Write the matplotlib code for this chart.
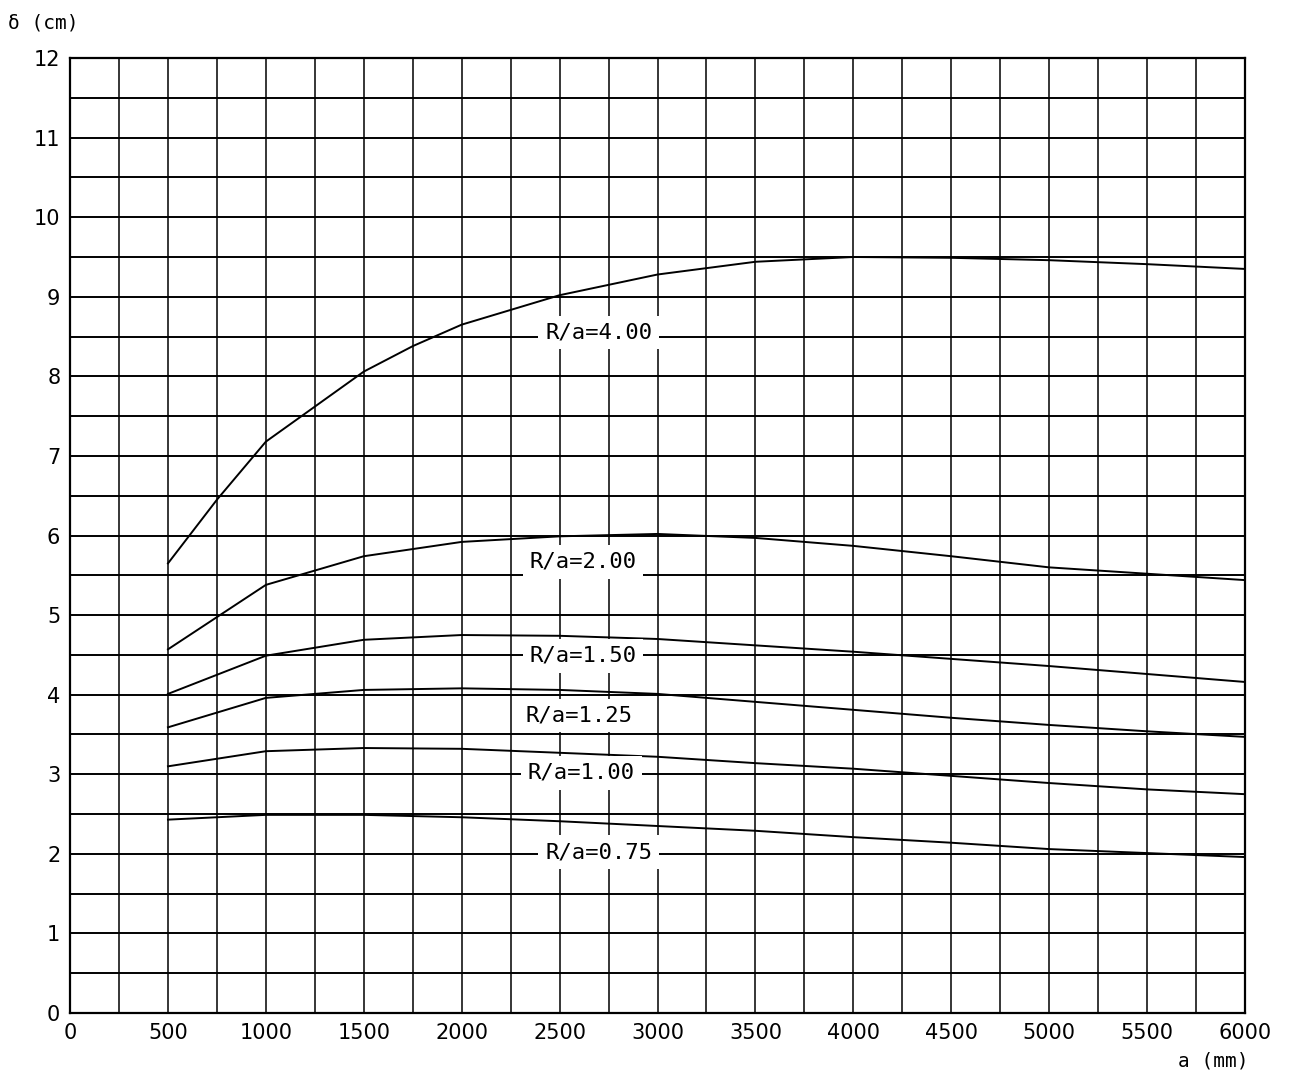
import matplotlib.pyplot as plt
import numpy as np

# span a (mm) and deflection delta (cm)
a_fine = [500, 750, 1000, 1250, 1500, 1750, 2000, 2500, 3000, 3500, 4000, 4500, 5000, 5500, 6000]
a_main = [500, 1000, 1500, 2000, 2500, 3000, 3500, 4000, 4500, 5000, 5500, 6000]

d_400 = [5.65, 6.45, 7.18, 7.62, 8.06, 8.38, 8.65, 9.02, 9.28, 9.44, 9.50, 9.49, 9.46, 9.41, 9.35]
d_200 = [4.57, 5.38, 5.74, 5.92, 5.99, 6.02, 5.97, 5.87, 5.74, 5.60, 5.52, 5.44]
d_150 = [4.01, 4.49, 4.69, 4.75, 4.74, 4.70, 4.62, 4.54, 4.45, 4.36, 4.26, 4.16]
d_125 = [3.59, 3.96, 4.06, 4.08, 4.06, 4.01, 3.91, 3.81, 3.71, 3.62, 3.54, 3.47]
d_100 = [3.10, 3.29, 3.33, 3.32, 3.27, 3.22, 3.14, 3.07, 2.98, 2.89, 2.81, 2.75]
d_075 = [2.43, 2.49, 2.49, 2.46, 2.41, 2.35, 2.29, 2.21, 2.14, 2.06, 2.01, 1.96]

labels = ['R/a=4.00', 'R/a=2.00', 'R/a=1.50', 'R/a=1.25', 'R/a=1.00', 'R/a=0.75']
label_x = [2700, 2620, 2620, 2600, 2610, 2700]
label_y = [8.55, 5.67, 4.49, 3.74, 3.02, 2.02]

fig = plt.figure(figsize=(12.9, 10.77), dpi=100)
ax = fig.add_axes([0.0543, 0.0594, 0.9108, 0.8867])

# grid every 250 mm / 0.5 cm
for gx in np.arange(0, 6001, 250):
    ax.axvline(gx, color='black', lw=1.1, zorder=1)
for gy in np.arange(0, 12.01, 0.5):
    ax.axhline(gy, color='black', lw=1.4, zorder=1)

ax.plot(a_fine, d_400, color='black', lw=1.4, zorder=2)
for d in [d_200, d_150, d_125, d_100, d_075]:
    ax.plot(a_main, d, color='black', lw=1.4, zorder=2)

for txt, lx, ly in zip(labels, label_x, label_y):
    ax.text(lx, ly, txt, ha='center', va='center', fontsize=16,
            family='DejaVu Sans Mono', color='black', zorder=3,
            bbox=dict(facecolor='white', edgecolor='none', pad=5))

ax.set_xlim(0, 6000)
ax.set_ylim(0, 12)
ax.set_xticks(np.arange(0, 6001, 500))
ax.set_xticklabels([str(v) for v in range(0, 6001, 500)])
ax.set_yticks(np.arange(0, 13, 1))
ax.set_yticklabels([str(v) for v in range(0, 13)])
ax.tick_params(length=0, labelsize=15, pad=7)
for s in ax.spines.values():
    s.set_linewidth(1.6)

fig.text(0.006, 0.979, 'δ (cm)', fontsize=14, family='DejaVu Sans Mono', ha='left', va='center')
fig.text(0.968, 0.015, 'a (mm)', fontsize=14, family='DejaVu Sans Mono', ha='right', va='center')

fig.savefig('out.png', dpi=100)
